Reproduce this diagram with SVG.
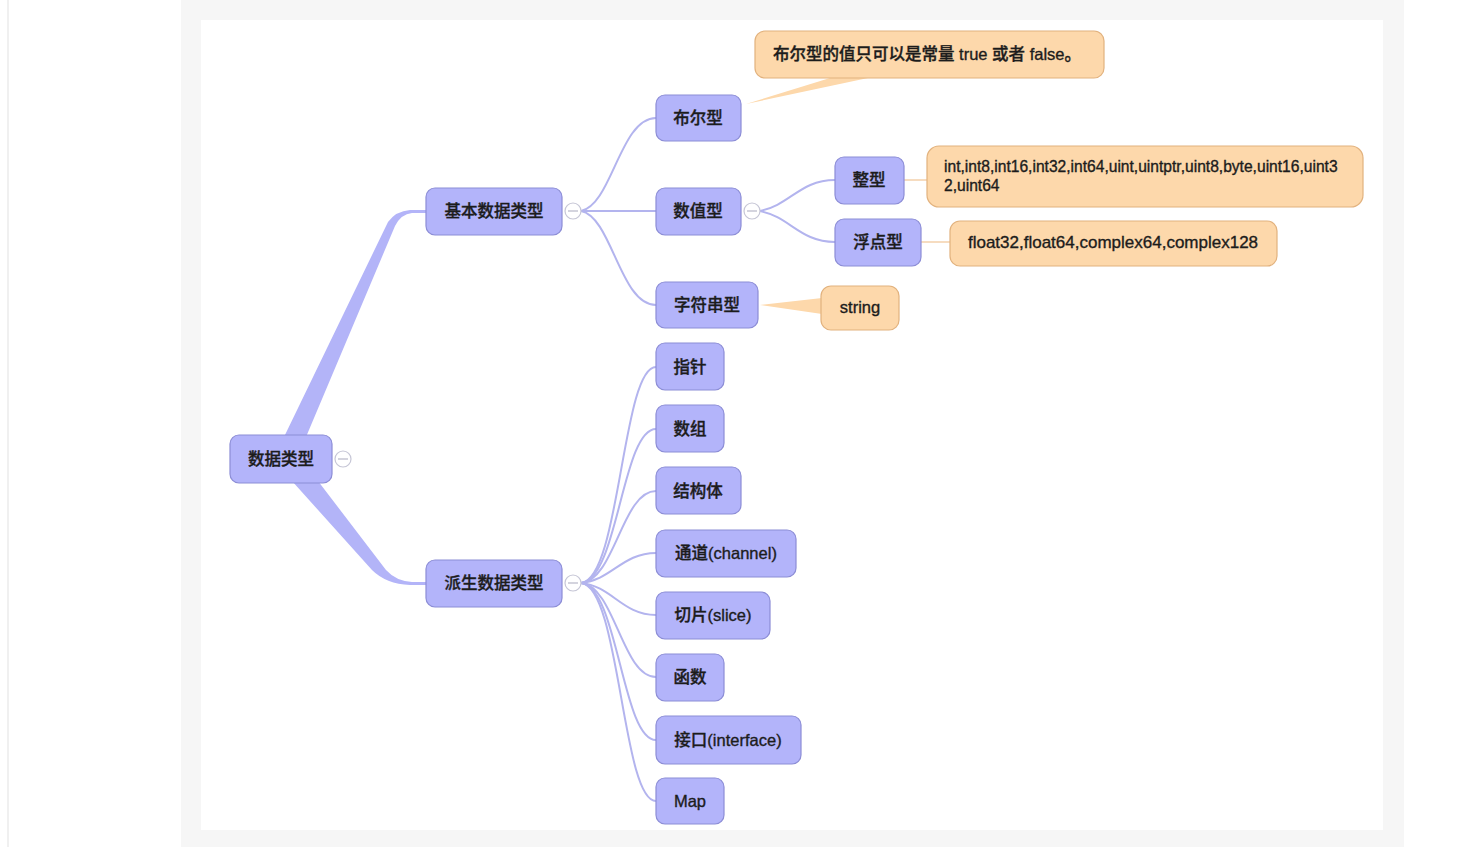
<svg xmlns="http://www.w3.org/2000/svg" width="1458" height="847" viewBox="0 0 1458 847">
<style>
.n rect{fill:#b3b4fa;stroke:#8c8dd6;stroke-width:1.2}
.c rect{fill:#fdd8ab;stroke:#e2b27e;stroke-width:1.2}
text{font-family:"Liberation Sans","Noto Sans CJK SC",sans-serif;font-size:16.5px;fill:#1c1c1c;stroke:#1c1c1c;stroke-width:0.35;font-weight:500}
.sm{font-size:15.6px}
.lg{font-size:17px}
.ln{fill:none;stroke:#b3b4ee;stroke-width:2}
.tog{fill:#fff;stroke:#c6c6d6;stroke-width:1.2}
.togl{stroke:#b8b8c8;stroke-width:1.2}
</style>
<rect x="0" y="0" width="1458" height="847" fill="#ffffff"/>
<rect x="181" y="0" width="1223" height="847" fill="#f6f6f6"/>
<rect x="201" y="20" width="1182" height="810" fill="#ffffff"/>
<line x1="8" y1="0" x2="8" y2="847" stroke="#f0f0f0" stroke-width="2"/>

<g id="connectors">
  <path d="M284 437 L388 222 Q396 211 410 210 L426 210 L426 213 L412 213 Q401 214 395 226 L306 437 Z" fill="#b3b4f8"/>
  <path d="M292 481 L372 570 Q386 584 410 585 L426 585 L426 582 L412 582 Q396 581 386 570 L318 481 Z" fill="#b3b4f8"/>
  <path class="ln" d="M581 211 C612 205,620 118,656 118"/>
  <path class="ln" d="M581 211 L656 211"/>
  <path class="ln" d="M581 211 C612 217,620 305,656 305"/>
  <path class="ln" d="M760 211 C790 205,800 180,835 180"/>
  <path class="ln" d="M760 211 C790 217,800 242,835 242"/>
  <path class="ln" d="M581 583 C620 580,622 367,656 367"/>
  <path class="ln" d="M581 583 C618 580,622 429,656 429"/>
  <path class="ln" d="M581 583 C615 580,622 491,656 491"/>
  <path class="ln" d="M581 583 C612 580,622 553,656 553"/>
  <path class="ln" d="M581 583 C612 586,622 615,656 615"/>
  <path class="ln" d="M581 583 C615 586,622 677,656 677"/>
  <path class="ln" d="M581 583 C618 586,622 740,656 740"/>
  <path class="ln" d="M581 583 C620 586,622 801,656 801"/>
  <line x1="904" y1="180" x2="927" y2="180" stroke="#f6dcc0" stroke-width="2"/>
  <line x1="921" y1="242" x2="950" y2="242" stroke="#f6dcc0" stroke-width="2"/>
  <path d="M746 104 L830 78 L868 78 Z" fill="#fdd8ab"/>
  <path d="M760 305 L822 298 L822 314 Z" fill="#fdd8ab"/>
</g>

<g id="root" class="n">
  <rect x="230" y="435" width="102" height="48" rx="9"/>
  <text x="281" y="465" text-anchor="middle">数据类型</text>
  <circle class="tog" cx="343" cy="459" r="8"/>
  <line class="togl" x1="338" y1="459" x2="348" y2="459"/>
</g>
<g id="basic" class="n">
  <rect x="426" y="188" width="136" height="47" rx="9"/>
  <text x="494" y="217" text-anchor="middle">基本数据类型</text>
  <circle class="tog" cx="573" cy="211" r="8"/>
  <line class="togl" x1="568" y1="211" x2="578" y2="211"/>
</g>
<g id="derived" class="n">
  <rect x="426" y="560" width="136" height="47" rx="9"/>
  <text x="494" y="589" text-anchor="middle">派生数据类型</text>
  <circle class="tog" cx="573" cy="583" r="8"/>
  <line class="togl" x1="568" y1="583" x2="578" y2="583"/>
</g>
<g id="bool" class="n">
  <rect x="656" y="95" width="85" height="46" rx="9"/>
  <text x="698" y="124" text-anchor="middle">布尔型</text>
</g>
<g id="numeric" class="n">
  <rect x="656" y="188" width="85" height="47" rx="9"/>
  <text x="698" y="217" text-anchor="middle">数值型</text>
  <circle class="tog" cx="752" cy="211" r="8"/>
  <line class="togl" x1="747" y1="211" x2="757" y2="211"/>
</g>
<g id="string" class="n">
  <rect x="656" y="282" width="102" height="46" rx="9"/>
  <text x="707" y="311" text-anchor="middle">字符串型</text>
</g>
<g id="int" class="n">
  <rect x="835" y="157" width="69" height="47" rx="9"/>
  <text x="869" y="186" text-anchor="middle">整型</text>
</g>
<g id="float" class="n">
  <rect x="835" y="219" width="86" height="47" rx="9"/>
  <text x="878" y="248" text-anchor="middle">浮点型</text>
</g>
<g id="bool-note" class="c">
  <rect x="755" y="31" width="349" height="47" rx="10"/>
  <text x="773" y="60">布尔型的值只可以是常量 true 或者 false。</text>
</g>
<g id="int-note" class="c">
  <rect x="927" y="146" width="436" height="61" rx="12"/>
  <text class="sm" x="944" y="172">int,int8,int16,int32,int64,uint,uintptr,uint8,byte,uint16,uint3</text>
  <text class="sm" x="944" y="191">2,uint64</text>
</g>
<g id="float-note" class="c">
  <rect x="950" y="221" width="327" height="45" rx="10"/>
  <text class="lg" x="1113" y="248" text-anchor="middle">float32,float64,complex64,complex128</text>
</g>
<g id="string-note" class="c">
  <rect x="821" y="286" width="78" height="44" rx="10"/>
  <text x="860" y="313" text-anchor="middle">string</text>
</g>
<g id="pointer" class="n">
  <rect x="656" y="343" width="68" height="47" rx="9"/>
  <text x="690" y="373" text-anchor="middle">指针</text>
</g>
<g id="array" class="n">
  <rect x="656" y="405" width="68" height="47" rx="9"/>
  <text x="690" y="435" text-anchor="middle">数组</text>
</g>
<g id="struct" class="n">
  <rect x="656" y="467" width="85" height="47" rx="9"/>
  <text x="698" y="497" text-anchor="middle">结构体</text>
</g>
<g id="channel" class="n">
  <rect x="656" y="530" width="140" height="47" rx="9"/>
  <text x="726" y="559" text-anchor="middle">通道(channel)</text>
</g>
<g id="slice" class="n">
  <rect x="656" y="592" width="114" height="47" rx="9"/>
  <text x="713" y="621" text-anchor="middle">切片(slice)</text>
</g>
<g id="func" class="n">
  <rect x="656" y="654" width="68" height="47" rx="9"/>
  <text x="690" y="683" text-anchor="middle">函数</text>
</g>
<g id="iface" class="n">
  <rect x="656" y="716" width="145" height="48" rx="9"/>
  <text x="728" y="746" text-anchor="middle">接口(interface)</text>
</g>
<g id="map" class="n">
  <rect x="656" y="778" width="68" height="46" rx="9"/>
  <text x="690" y="807" text-anchor="middle">Map</text>
</g>
</svg>
